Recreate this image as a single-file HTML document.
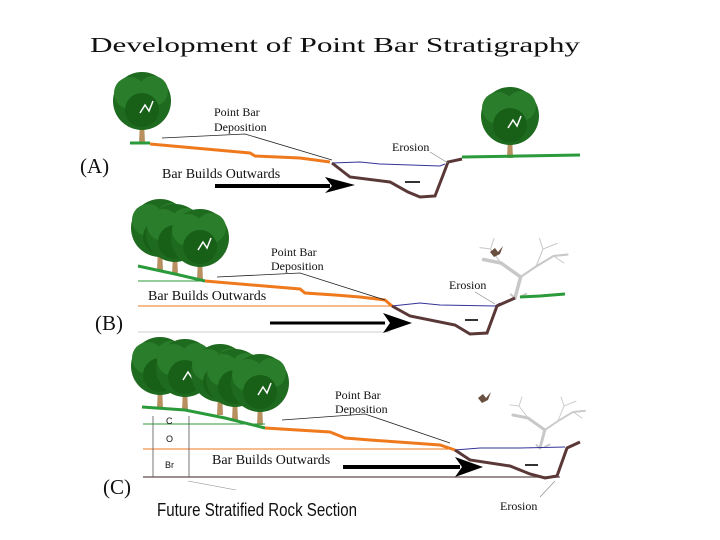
<!DOCTYPE html>
<html><head><meta charset="utf-8"><style>
html,body{margin:0;padding:0;background:#fff;}
svg{display:block;}
text{font-family:"Liberation Serif",serif;fill:#111;}
text.sans{font-family:"Liberation Sans",sans-serif;}
</style></head><body>
<svg width="720" height="540" viewBox="0 0 720 540" xmlns="http://www.w3.org/2000/svg">
<defs>
<g id="tree">
  <path d="M-3,0 L-2,-22 L-8,-32 L-5,-33 L0,-26 L5,-34 L8,-32 L2,-22 L3,0 Z" fill="#b89060"/>
  <circle cx="0" cy="-42" r="29" fill="#1e6a1e"/>
  <circle cx="-12" cy="-50" r="16" fill="#2a7d2a"/>
  <circle cx="11" cy="-52" r="15" fill="#2a7d2a"/>
  <circle cx="0" cy="-33" r="17" fill="#186018"/>
  <path d="M-2,-30 L3,-38 L7,-32 L11,-42" stroke="#fff" stroke-width="1.5" fill="none"/>
</g>
<g id="dead" fill="none" stroke="#c8c8c8" stroke-linecap="round">
  <path d="M0,0 L8,-30 L-20,-50 L-45,-55" stroke-width="5"/>
  <path d="M8,-30 L30,-45 L55,-60 L75,-62" stroke-width="3"/>
  <path d="M-20,-50 L-35,-70 L-50,-72 M-35,-70 L-30,-85 M30,-45 L40,-70 L60,-78 M40,-70 L35,-85 M55,-60 L70,-50" stroke-width="1.5"/>
  <path d="M0,0 L-6,-5 M8,-2 L16,-6" stroke-width="3"/>
</g>
</defs>

<text x="90" y="52" font-size="21" textLength="490" lengthAdjust="spacingAndGlyphs">Development of Point Bar Stratigraphy</text>

<!-- Panel A -->
<use href="#tree" x="142" y="143"/>
<use href="#tree" x="510" y="158"/>
<path d="M130,143 L150,143" stroke="#2a9a3a" stroke-width="3"/>
<path d="M150,144 L250,153 L255,156 L300,158 L330,162" stroke="#ef7a1e" stroke-width="3" fill="none"/>
<path d="M332,163 L360,162 L380,164 L440,166 L445,164" stroke="#333399" stroke-width="1" fill="none"/>
<path d="M332,163 L350,177 L390,182 L408,192 L420,197 L435,196 L445,170 L448,162 L462,159" stroke="#5a3838" stroke-width="3" fill="none"/>
<path d="M462,157 L520,156 L580,155" stroke="#2a9a3a" stroke-width="3" fill="none"/>
<path d="M162,138 L245,134 L332,160" stroke="#222" stroke-width="0.8" fill="none"/>
<path d="M430,152 L448,163" stroke="#888" stroke-width="0.6"/>
<text x="214" y="116" font-size="12">Point Bar</text>
<text x="214" y="131" font-size="12">Deposition</text>
<text x="392" y="151" font-size="12">Erosion</text>
<text x="80" y="173" font-size="21">(A)</text>
<text x="162" y="178" font-size="14">Bar Builds Outwards</text>
<path d="M215,186 L330,186" stroke="#000" stroke-width="4"/>
<path d="M325,177 L355,185 L325,193 L332,186 Z" fill="#000"/>
<path d="M405,182 L420,182" stroke="#333" stroke-width="2"/>

<!-- Panel B -->
<use href="#tree" x="160" y="270"/>
<use href="#tree" x="175" y="275"/>
<use href="#tree" x="200" y="280"/>
<path d="M138,266 L175,274 L205,281" stroke="#2a9a3a" stroke-width="3" fill="none"/>
<path d="M138,281 L205,281" stroke="#2a9a3a" stroke-width="1"/>
<path d="M205,281 L300,289 L305,293 L335,295 L360,297 L385,300 L392,306" stroke="#ef7a1e" stroke-width="3" fill="none"/>
<path d="M138,306 L392,306" stroke="#ef7a1e" stroke-width="1"/>
<path d="M138,332 L390,332" stroke="#ccc" stroke-width="1"/>
<path d="M392,306 L420,303 L440,305 L495,306 L500,303" stroke="#333399" stroke-width="1" fill="none"/>
<use href="#dead" transform="translate(515,298) scale(0.7)"/>
<path d="M392,306 L410,316 L455,325 L470,334 L487,333 L497,306 L515,298" stroke="#5a3838" stroke-width="3" fill="none"/>
<path d="M520,297 L540,296 L565,294" stroke="#2a9a3a" stroke-width="3" fill="none"/>
<path d="M217,277 L300,273 L385,300" stroke="#222" stroke-width="0.8" fill="none"/>
<path d="M475,292 L495,304" stroke="#888" stroke-width="0.6"/>
<text x="271" y="256" font-size="12">Point Bar</text>
<text x="271" y="270" font-size="12">Deposition</text>
<text x="449" y="289" font-size="12">Erosion</text>
<text x="95" y="330" font-size="21">(B)</text>
<text x="148" y="300" font-size="14">Bar Builds Outwards</text>
<path d="M270,323 L385,323" stroke="#000" stroke-width="3"/>
<path d="M383,313 L412,323 L383,333 L390,323 Z" fill="#000"/>
<path d="M465,320 L478,320" stroke="#333" stroke-width="2"/>
<path d="M490,252 l5,-4 l3,4 l5,-6 l-3,8 l-6,3 z" fill="#6a5040"/>

<!-- Panel C -->
<use href="#tree" x="160" y="408"/>
<use href="#tree" x="185" y="410"/>
<use href="#tree" x="220" y="415"/>
<use href="#tree" x="235" y="420"/>
<use href="#tree" x="260" y="425"/>
<path d="M142,407 L185,410 L225,418 L265,428" stroke="#2a9a3a" stroke-width="3" fill="none"/>
<path d="M143,424 L265,424" stroke="#2a9a3a" stroke-width="1"/>
<path d="M265,428 L330,432 L345,438 L370,440 L440,445 L455,450" stroke="#ef7a1e" stroke-width="3" fill="none"/>
<path d="M143,449 L455,449" stroke="#ef7a1e" stroke-width="1"/>
<path d="M143,477 L560,477" stroke="#7a6a6a" stroke-width="1.5"/>
<path d="M153,416 L153,477 M189,416 L189,477" stroke="#555" stroke-width="0.8"/>
<text x="166" y="424" font-size="9" class="sans">C</text>
<text x="166" y="442" font-size="9" class="sans">O</text>
<text x="165" y="468" font-size="9" class="sans">Br</text>
<use href="#dead" transform="translate(540,448) scale(0.6)"/>
<path d="M455,450 L480,448 L520,448 L565,447" stroke="#333399" stroke-width="1" fill="none"/>
<path d="M455,450 L470,460 L510,466 L530,474 L545,478 L557,476 L567,448 L580,442" stroke="#5a3838" stroke-width="3" fill="none"/>
<path d="M282,420 L365,414 L450,443" stroke="#222" stroke-width="0.8" fill="none"/>
<path d="M540,497 L555,481" stroke="#888" stroke-width="0.6"/>
<path d="M236,490 L188,481" stroke="#888" stroke-width="0.6"/>
<text x="335" y="399" font-size="12">Point Bar</text>
<text x="335" y="413" font-size="12">Deposition</text>
<text x="500" y="510" font-size="12">Erosion</text>
<text x="103" y="494" font-size="21">(C)</text>
<text x="212" y="464" font-size="14">Bar Builds Outwards</text>
<path d="M343,467 L460,467" stroke="#000" stroke-width="4"/>
<path d="M455,457 L483,467 L455,477 L462,467 Z" fill="#000"/>
<path d="M525,465 L538,465" stroke="#333" stroke-width="2"/>
<path d="M478,398 l5,-4 l3,4 l5,-6 l-3,8 l-6,3 z" fill="#6a5040"/>
<text x="157" y="516" font-size="18" class="sans" textLength="200" lengthAdjust="spacingAndGlyphs">Future Stratified Rock Section</text>
</svg>
</body></html>
